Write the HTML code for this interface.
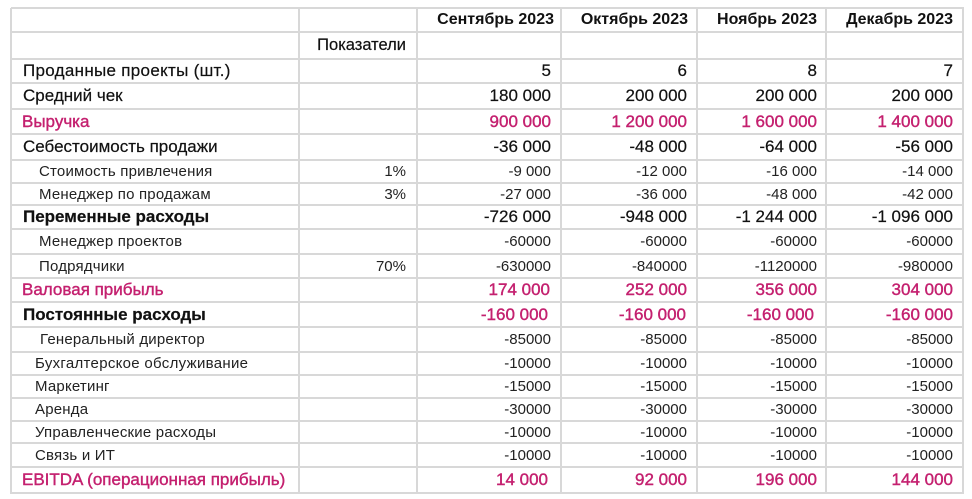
<!DOCTYPE html>
<html><head><meta charset="utf-8">
<style>
html,body{margin:0;padding:0;background:#fff;}
body{width:972px;height:499px;position:relative;overflow:hidden;font-family:"Liberation Sans","Noto Sans CJK SC",sans-serif;color:#111;}
.h{position:absolute;left:11px;width:953px;height:2px;background:#d8d8d8;}
.v{position:absolute;top:8px;height:486px;width:2px;background:#d8d8d8;}
.c{position:absolute;white-space:nowrap;display:flex;align-items:center;}
.r{justify-content:flex-end;}
.m{color:#c4206f;-webkit-text-stroke:0.4px #c4206f;}
.b{font-weight:bold;}
.s{font-size:15px;color:#222;}
.n{font-size:17px;-webkit-text-stroke:0.2px #111;}
.n.m{-webkit-text-stroke:0.4px #c4206f;}
</style></head><body>
<div class="h" style="top:7px"></div>
<div class="h" style="top:31px"></div>
<div class="h" style="top:58px"></div>
<div class="h" style="top:82px"></div>
<div class="h" style="top:108px"></div>
<div class="h" style="top:133px"></div>
<div class="h" style="top:159px"></div>
<div class="h" style="top:182px"></div>
<div class="h" style="top:204px"></div>
<div class="h" style="top:228px"></div>
<div class="h" style="top:253px"></div>
<div class="h" style="top:277px"></div>
<div class="h" style="top:301px"></div>
<div class="h" style="top:326px"></div>
<div class="h" style="top:351px"></div>
<div class="h" style="top:374px"></div>
<div class="h" style="top:397px"></div>
<div class="h" style="top:420px"></div>
<div class="h" style="top:442px"></div>
<div class="h" style="top:466px"></div>
<div class="h" style="top:492px"></div>
<div class="v" style="left:10px"></div>
<div class="v" style="left:298px"></div>
<div class="v" style="left:416px"></div>
<div class="v" style="left:560px"></div>
<div class="v" style="left:696px"></div>
<div class="v" style="left:825px"></div>
<div class="v" style="left:962px"></div>

<div class="c r b" style="top:8px;height:24px;left:417px;width:137px;font-size:16px">Сентябрь 2023</div>
<div class="c r b" style="top:8px;height:24px;left:561px;width:127px;font-size:16px">Октябрь 2023</div>
<div class="c r b" style="top:8px;height:24px;left:697px;width:120px;font-size:16px">Ноябрь 2023</div>
<div class="c r b" style="top:8px;height:24px;left:826px;width:127px;font-size:16px">Декабрь 2023</div>

<div class="c r" style="top:32px;height:27px;left:299px;width:107px;font-size:16.5px;-webkit-text-stroke:0.2px #111">Показатели</div>

<div class="c n" style="top:59px;height:24px;left:23px;letter-spacing:0.3px">Проданные проекты (шт.)</div>
<div class="c r n" style="top:59px;height:24px;left:417px;width:134px">5</div>
<div class="c r n" style="top:59px;height:24px;left:561px;width:126px">6</div>
<div class="c r n" style="top:59px;height:24px;left:697px;width:120px">8</div>
<div class="c r n" style="top:59px;height:24px;left:826px;width:127px">7</div>

<div class="c n" style="top:83px;height:26px;left:23px">Средний чек</div>
<div class="c r n" style="top:83px;height:26px;left:417px;width:134px">180 000</div>
<div class="c r n" style="top:83px;height:26px;left:561px;width:126px">200 000</div>
<div class="c r n" style="top:83px;height:26px;left:697px;width:120px">200 000</div>
<div class="c r n" style="top:83px;height:26px;left:826px;width:127px">200 000</div>

<div class="c n m" style="top:109px;height:25px;left:22px">Выручка</div>
<div class="c r n m" style="top:109px;height:25px;left:417px;width:134px">900 000</div>
<div class="c r n m" style="top:109px;height:25px;left:561px;width:126px">1 200 000</div>
<div class="c r n m" style="top:109px;height:25px;left:697px;width:120px">1 600 000</div>
<div class="c r n m" style="top:109px;height:25px;left:826px;width:127px">1 400 000</div>

<div class="c n" style="top:134px;height:26px;left:23px">Себестоимость продажи</div>
<div class="c r n" style="top:134px;height:26px;left:417px;width:134px">-36 000</div>
<div class="c r n" style="top:134px;height:26px;left:561px;width:126px">-48 000</div>
<div class="c r n" style="top:134px;height:26px;left:697px;width:120px">-64 000</div>
<div class="c r n" style="top:134px;height:26px;left:826px;width:127px">-56 000</div>

<div class="c s" style="top:160px;height:23px;left:39px;letter-spacing:0.2px">Стоимость привлечения</div>
<div class="c r s" style="top:160px;height:23px;left:299px;width:107px">1%</div>
<div class="c r s" style="top:160px;height:23px;left:417px;width:134px">-9 000</div>
<div class="c r s" style="top:160px;height:23px;left:561px;width:126px">-12 000</div>
<div class="c r s" style="top:160px;height:23px;left:697px;width:120px">-16 000</div>
<div class="c r s" style="top:160px;height:23px;left:826px;width:127px">-14 000</div>

<div class="c s" style="top:183px;height:22px;left:39px;letter-spacing:0.2px">Менеджер по продажам</div>
<div class="c r s" style="top:183px;height:22px;left:299px;width:107px">3%</div>
<div class="c r s" style="top:183px;height:22px;left:417px;width:134px">-27 000</div>
<div class="c r s" style="top:183px;height:22px;left:561px;width:126px">-36 000</div>
<div class="c r s" style="top:183px;height:22px;left:697px;width:120px">-48 000</div>
<div class="c r s" style="top:183px;height:22px;left:826px;width:127px">-42 000</div>

<div class="c n b" style="top:205px;height:24px;left:23px">Переменные расходы</div>
<div class="c r n" style="top:205px;height:24px;left:417px;width:134px">-726 000</div>
<div class="c r n" style="top:205px;height:24px;left:561px;width:126px">-948 000</div>
<div class="c r n" style="top:205px;height:24px;left:697px;width:120px">-1 244 000</div>
<div class="c r n" style="top:205px;height:24px;left:826px;width:127px">-1 096 000</div>

<div class="c s" style="top:229px;height:25px;left:39px;letter-spacing:0.2px">Менеджер проектов</div>
<div class="c r s" style="top:229px;height:25px;left:417px;width:134px">-60000</div>
<div class="c r s" style="top:229px;height:25px;left:561px;width:126px">-60000</div>
<div class="c r s" style="top:229px;height:25px;left:697px;width:120px">-60000</div>
<div class="c r s" style="top:229px;height:25px;left:826px;width:127px">-60000</div>

<div class="c s" style="top:254px;height:24px;left:39px;letter-spacing:0.2px">Подрядчики</div>
<div class="c r s" style="top:254px;height:24px;left:299px;width:107px">70%</div>
<div class="c r s" style="top:254px;height:24px;left:417px;width:134px">-630000</div>
<div class="c r s" style="top:254px;height:24px;left:561px;width:126px">-840000</div>
<div class="c r s" style="top:254px;height:24px;left:697px;width:120px">-1120000</div>
<div class="c r s" style="top:254px;height:24px;left:826px;width:127px">-980000</div>

<div class="c n m" style="top:278px;height:24px;left:22px">Валовая прибыль</div>
<div class="c r n m" style="top:278px;height:24px;left:417px;width:133px">174 000</div>
<div class="c r n m" style="top:278px;height:24px;left:561px;width:126px">252 000</div>
<div class="c r n m" style="top:278px;height:24px;left:697px;width:120px">356 000</div>
<div class="c r n m" style="top:278px;height:24px;left:826px;width:127px">304 000</div>

<div class="c n b" style="top:302px;height:25px;left:23px">Постоянные расходы</div>
<div class="c r n m" style="top:302px;height:25px;left:417px;width:131px">-160 000</div>
<div class="c r n m" style="top:302px;height:25px;left:561px;width:125px">-160 000</div>
<div class="c r n m" style="top:302px;height:25px;left:697px;width:117px">-160 000</div>
<div class="c r n m" style="top:302px;height:25px;left:826px;width:127px">-160 000</div>

<div class="c s" style="top:327px;height:25px;left:40px;letter-spacing:0.2px">Генеральный директор</div>
<div class="c r s" style="top:327px;height:25px;left:417px;width:134px">-85000</div>
<div class="c r s" style="top:327px;height:25px;left:561px;width:126px">-85000</div>
<div class="c r s" style="top:327px;height:25px;left:697px;width:120px">-85000</div>
<div class="c r s" style="top:327px;height:25px;left:826px;width:127px">-85000</div>

<div class="c s" style="top:352px;height:23px;left:35px;letter-spacing:0.3px">Бухгалтерское обслуживание</div>
<div class="c r s" style="top:352px;height:23px;left:417px;width:134px">-10000</div>
<div class="c r s" style="top:352px;height:23px;left:561px;width:126px">-10000</div>
<div class="c r s" style="top:352px;height:23px;left:697px;width:120px">-10000</div>
<div class="c r s" style="top:352px;height:23px;left:826px;width:127px">-10000</div>

<div class="c s" style="top:375px;height:23px;left:35px;letter-spacing:0.2px">Маркетинг</div>
<div class="c r s" style="top:375px;height:23px;left:417px;width:134px">-15000</div>
<div class="c r s" style="top:375px;height:23px;left:561px;width:126px">-15000</div>
<div class="c r s" style="top:375px;height:23px;left:697px;width:120px">-15000</div>
<div class="c r s" style="top:375px;height:23px;left:826px;width:127px">-15000</div>

<div class="c s" style="top:398px;height:23px;left:35px;letter-spacing:0.2px">Аренда</div>
<div class="c r s" style="top:398px;height:23px;left:417px;width:134px">-30000</div>
<div class="c r s" style="top:398px;height:23px;left:561px;width:126px">-30000</div>
<div class="c r s" style="top:398px;height:23px;left:697px;width:120px">-30000</div>
<div class="c r s" style="top:398px;height:23px;left:826px;width:127px">-30000</div>

<div class="c s" style="top:421px;height:22px;left:35px;letter-spacing:0.2px">Управленческие расходы</div>
<div class="c r s" style="top:421px;height:22px;left:417px;width:134px">-10000</div>
<div class="c r s" style="top:421px;height:22px;left:561px;width:126px">-10000</div>
<div class="c r s" style="top:421px;height:22px;left:697px;width:120px">-10000</div>
<div class="c r s" style="top:421px;height:22px;left:826px;width:127px">-10000</div>

<div class="c s" style="top:443px;height:24px;left:35px;letter-spacing:0.2px">Связь и ИТ</div>
<div class="c r s" style="top:443px;height:24px;left:417px;width:134px">-10000</div>
<div class="c r s" style="top:443px;height:24px;left:561px;width:126px">-10000</div>
<div class="c r s" style="top:443px;height:24px;left:697px;width:120px">-10000</div>
<div class="c r s" style="top:443px;height:24px;left:826px;width:127px">-10000</div>

<div class="c n m" style="top:467px;height:26px;left:22px">EBITDA (операционная прибыль)</div>
<div class="c r n m" style="top:467px;height:26px;left:417px;width:131px">14 000</div>
<div class="c r n m" style="top:467px;height:26px;left:561px;width:126px">92 000</div>
<div class="c r n m" style="top:467px;height:26px;left:697px;width:120px">196 000</div>
<div class="c r n m" style="top:467px;height:26px;left:826px;width:127px">144 000</div>
</body></html>
